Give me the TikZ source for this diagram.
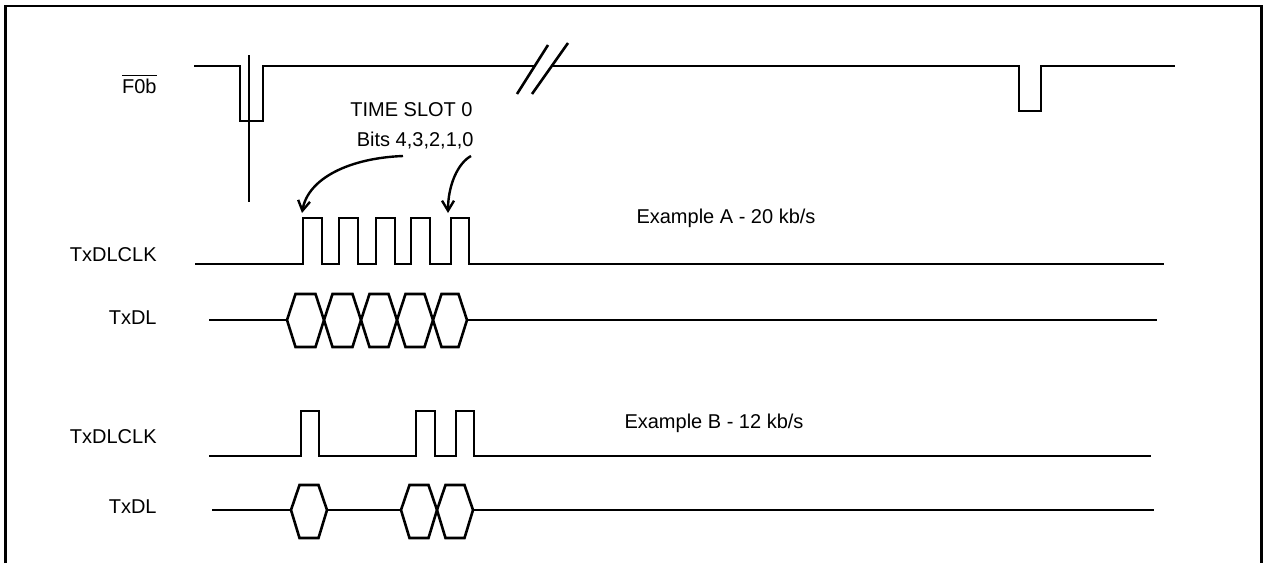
\documentclass[tikz,border=0pt]{standalone}
\usepackage{fontspec}
\setmainfont{Liberation Sans}
\usetikzlibrary{arrows.meta}
\tikzstyle{sig}=[line width=1.3pt, line join=miter]
\tikzstyle{frame}=[line width=1.2pt]
\tikzstyle{lbl}=[inner sep=0, font=\fontsize{10}{12}\selectfont]
\tikzstyle{pointer}=[line width=1.2pt, -{Straight Barb[length=5pt,width=6pt]}]
\begin{document}
\begin{tikzpicture}[x=0.5pt, y=-0.5pt]
            \useasboundingbox (0,0) rectangle (1263,563);
            % frame, open at the bottom
            \draw[frame] (5.5,563) -- (5.5,6) -- (1261.5,6) -- (1261.5,563);
            % frame pulse with break
            \draw[sig] (194,66) -- (240,66) -- (240,121) -- (263,121) -- (263,66) -- (535,66);
            \draw[sig] (517,94) -- (548,45);
            \draw[sig] (532,94) -- (568,43);
            \draw[sig] (552,66) -- (1019,66) -- (1019,111) -- (1041,111) -- (1041,66) -- (1175,66);
            \draw[line width=1pt] (249,55) -- (249,202);
            % example A clock
            \draw[sig] (195,264) \foreach \r/\f in {303/322, 339/358, 376/395, 411/430, 451/469} {
                -- (\r,264) -- (\r,218) -- (\f,218) -- (\f,264)} -- (1164,264);
            % example A data
            \draw[sig] (209,320) -- (287,320);
            \foreach \a/\b in {287/324, 324/361, 361/397, 397/433, 433/467} {
                \draw[sig] (\a,320) -- (\a+8.5,294) -- (\b-8.5,294) -- (\b,320) -- (\b-8.5,347) -- (\a+8.5,347) -- cycle;
            }
            \draw[sig] (467,320) -- (1157,320);
            % example B clock
            \draw[sig] (209,456) \foreach \r/\f in {301/319, 416/435, 456/474} {
                -- (\r,456) -- (\r,411) -- (\f,411) -- (\f,456)} -- (1151,456);
            % example B data
            \draw[sig] (212,510) -- (291,510);
            \draw[sig] (327,510) -- (401,510);
            \foreach \a/\b in {291/327, 401/437, 437/473} {
                \draw[sig] (\a,510) -- (\a+8.5,485) -- (\b-8.5,485) -- (\b,510) -- (\b-8.5,538) -- (\a+8.5,538) -- cycle;
            }
            \draw[sig] (473,510) -- (1154,510);
            % signal names
            \node[lbl, anchor=base east] (fsync) at (157,93) {$\overline{\hbox{F0b}}$};
            \node[lbl, anchor=base east] (clka) at (157,261) {TxDLCLK};
            \node[lbl, anchor=base east] (data) at (157,324) {TxDL};
            \node[lbl, anchor=base east] (clkb) at (157,443) {TxDLCLK};
            \node[lbl, anchor=base east] (datb) at (157,513) {TxDL};
            \node[lbl, anchor=base] (exa) at (726,223) {Example A - 20 kb/s};
            \node[lbl, anchor=base] (exb) at (714,428) {Example B - 12 kb/s};
            \node[lbl, anchor=base east] (slot) at (473,116) {TIME SLOT 0};
            \node[lbl, anchor=base east] (bits) at (474,146) {Bits 4,3,2,1,0};
            % pointers to bits 4 and 0
            \coordinate (s4) at (403,156);
            \coordinate (s0) at (471,156);
            \coordinate (b4) at (302,213);
            \coordinate (b0) at (448,213);
            \draw[pointer] (s4) .. controls (350,158) and (308,178) .. (b4);
            \draw[pointer] (s0) .. controls (458,163) and (448,185) .. (b0);
        \end{tikzpicture}
\end{document}
